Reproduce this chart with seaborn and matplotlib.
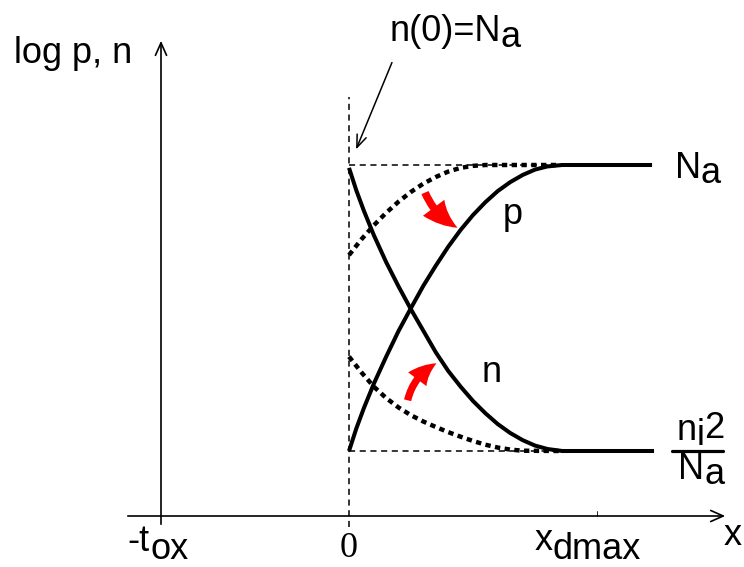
import numpy as np
import pandas as pd
import seaborn as sns
import matplotlib
matplotlib.use("Agg")
import matplotlib.pyplot as plt
from matplotlib.patches import FancyArrowPatch

# Sketch: log p, n versus depth x (x in units of xdmax, log in units of the ni2/Na..Na span)
x_p = [0.0, 0.03, 0.06, 0.1, 0.15, 0.2, 0.25, 0.3, 0.35, 0.4, 0.45, 0.5,
       0.55, 0.6, 0.65, 0.7, 0.75, 0.8, 0.86, 1.222]
y_p = [0.0, 0.08, 0.15, 0.235, 0.33, 0.42, 0.50, 0.578, 0.648, 0.714, 0.773, 0.825,
       0.870, 0.909, 0.940, 0.965, 0.984, 0.995, 1.0, 1.0]

x_n = [0.0, 0.03, 0.06, 0.1, 0.15, 0.2, 0.25, 0.3, 0.35, 0.4, 0.45, 0.5,
       0.55, 0.6, 0.65, 0.7, 0.75, 0.8, 0.86, 1.23]
y_n = [0.99, 0.91, 0.84, 0.755, 0.66, 0.575, 0.495, 0.42, 0.345, 0.28, 0.225, 0.175,
       0.132, 0.094, 0.063, 0.038, 0.019, 0.007, 0.0, 0.0]

x_p_eq = [0.0, 0.05, 0.1, 0.15, 0.2, 0.25, 0.3, 0.35, 0.4, 0.45, 0.5, 0.55, 0.85]
y_p_eq = [0.685, 0.74, 0.789, 0.833, 0.872, 0.906, 0.935, 0.958, 0.977, 0.990, 0.997, 1.0, 1.0]

x_n_eq = [0.0, 0.05, 0.1, 0.15, 0.2, 0.25, 0.3, 0.35, 0.4, 0.45, 0.5, 0.55, 0.6, 0.65, 0.7, 0.85]
y_n_eq = [0.33, 0.275, 0.225, 0.185, 0.152, 0.125, 0.103, 0.084, 0.066, 0.05, 0.035, 0.022,
          0.012, 0.005, 0.001, 0.0]

x_tox = -0.758
x_dmax = 1.0
y_top, y_bot = 1.0, 0.0

sns.set_style("white")
plt.rcParams['font.family'] = ['Liberation Sans', 'DejaVu Sans']

fig = plt.figure(figsize=(7.44, 5.67), dpi=100)
ax = fig.add_axes([0, 0, 1, 1])

# pixel layout of the original: x=0 at 349 px, 248 px per xdmax; y=0 at 451 px, 286 px per unit
def px(u):
    return (u - 349) / 248.0

def py(v):
    return (451 - v) / 286.0

ax.set_xlim(px(0), px(744))
ax.set_ylim(py(567), py(0))
ax.axis('off')

fs = 26
thin = dict(color='black', lw=1.1)

# thin dashed guide lines
ax.plot([0, 0], [py(527), py(97)], ls=(0, (4, 3)), **thin)
ax.plot([0, 1.222], [y_top, y_top], ls=(0, (4, 3)), **thin)
ax.plot([0, 1.23], [y_bot, y_bot], ls=(0, (4, 3)), **thin)

# dotted curves (before) and solid curves (after)
for xs, ys in [(x_p_eq, y_p_eq), (x_n_eq, y_n_eq)]:
    sns.lineplot(x=xs, y=ys, sort=False, ax=ax, color='black', lw=3.2,
                 linestyle=(0, (1.2, 1.0)), dash_capstyle='butt')
for xs, ys in [(x_p, y_p), (x_n, y_n)]:
    sns.lineplot(x=xs, y=ys, sort=False, ax=ax, color='black', lw=2.9,
                 solid_capstyle='butt')

# axes with open arrowheads
ax.annotate('', xy=(px(728), py(516)), xytext=(px(125), py(516)),
            arrowprops=dict(arrowstyle='->,head_length=0.9,head_width=0.4', color='black', lw=1.2))
ax.annotate('', xy=(px(161), py(38)), xytext=(px(161), py(527)),
            arrowprops=dict(arrowstyle='->,head_length=0.9,head_width=0.4', color='black', lw=1.2))
ax.plot([x_dmax, x_dmax], [py(516), py(511)], color='black', lw=0.6)

# annotation arrow for n(0)
ax.annotate('', xy=(px(355), py(152)), xytext=(px(393), py(60)),
            arrowprops=dict(arrowstyle='->,head_length=0.9,head_width=0.35', color='black', lw=1.1))

# red arrows
ax.add_patch(FancyArrowPatch((px(424), py(190)), (px(460), py(229)),
                             connectionstyle='arc3,rad=0.2',
                             arrowstyle='simple,head_length=1.4,head_width=1.2,tail_width=0.35',
                             mutation_scale=16, color='red', lw=0))
ax.add_patch(FancyArrowPatch((px(407), py(403)), (px(439), py(362)),
                             connectionstyle='arc3,rad=-0.25',
                             arrowstyle='simple,head_length=1.2,head_width=1.1,tail_width=0.35',
                             mutation_scale=15, color='red', lw=0))

# texts
def txt(u, v, s, size=fs, **kw):
    ax.text(px(u), py(v), s, fontsize=size, va='baseline', ha='left', color='black', **kw)

txt(14, 63, 'log p, n')
txt(390, 41, 'n(0)=N')
txt(500, 47, 'a')
txt(675, 178, 'N')
txt(701, 183, 'a')
txt(503, 224, 'p')
txt(482, 382, 'n')
txt(677, 440, 'n')
txt(697, 445, 'i')
txt(704, 438, '2')
ax.plot([px(672), px(723)], [py(451), py(451)], color='black', lw=2.3)
txt(678, 479, 'N')
txt(704, 484, 'a')
txt(127, 551, '-t')
txt(150, 559, 'ox')
ax.text(0, py(557), '0', fontsize=fs, ha='center', va='baseline', color='black',
        family='Liberation Serif')
txt(535, 550, 'x')
txt(553, 559, 'dmax')
txt(724, 545, 'x')

fig.savefig('out.png', dpi=100)
